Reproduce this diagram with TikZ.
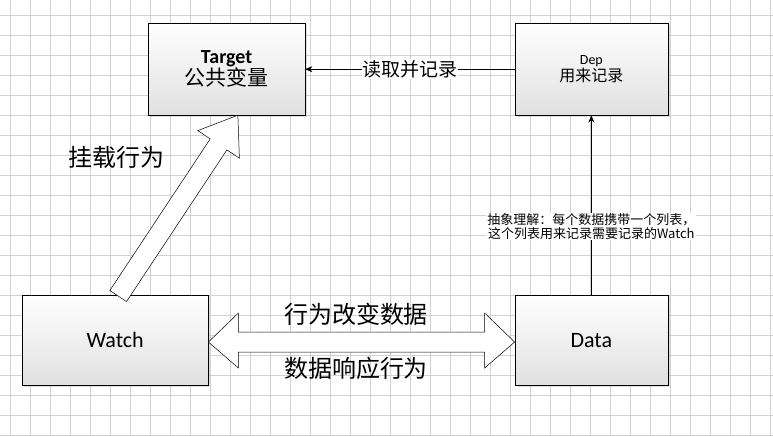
\documentclass[tikz,border=0pt]{standalone}
\usepackage{fontspec}
\setmainfont{Carlito}
\newfontfamily\zh{Noto Sans CJK SC}
\usetikzlibrary{arrows.meta,shadows,calc}
\begin{document}
\begin{tikzpicture}[x=1pt, y=-1pt,
    box/.style = {draw, line width=0.6pt, top color=white, bottom color=black!12,
                  drop shadow={shadow xshift=2pt, shadow yshift=-2pt, opacity=0.25},
                  align=center, inner sep=0pt},
    tag/.style = {fill=white, inner sep=1pt, align=center},
    link/.style = {-{Stealth[length=7pt,width=6pt]}, line width=0.5pt}]
    % grid
    \fill[white] (0,0) rectangle (773,435);
    \foreach \gx in {10,30,...,770} \draw[black!18, line width=0.5pt] (\gx,0) -- (\gx,435);
    \foreach \gy in {15,35,...,435} \draw[black!18, line width=0.5pt] (0,\gy) -- (773,\gy);
    \useasboundingbox (0,0) rectangle (773,435);

    \node [box, minimum width=157pt, minimum height=92pt] (target) at (226.5, 69)
        {\bfseries\fontsize{20}{24}\selectfont Target\\{\zh\fontsize{21}{24}\selectfont 公共变量}};
    \node [box, minimum width=153pt, minimum height=92pt] (dep) at (591.5, 69)
        {\fontsize{14}{18}\selectfont Dep\\{\zh\fontsize{16}{19}\selectfont 用来记录}};
    \node [box, minimum width=186pt, minimum height=90pt] (watch) at (115, 340)
        {\fontsize{22}{26}\selectfont Watch};
    \node [box, minimum width=153pt, minimum height=90pt] (data) at (591.5, 340)
        {\fontsize{22}{26}\selectfont Data};

    % connectors
    \draw [link] (dep.west) -- node [tag] (read) {\zh\fontsize{19}{22}\selectfont 读取并记录} (target.east);
    \draw [link] (data.north) -- node [tag, pos=0.38] (note)
        {\zh\fontsize{13}{19}\selectfont 抽象理解：每个数据携带一个列表，\\\zh\fontsize{13}{19}\selectfont 这个列表用来记录需要记录的Watch} (dep.south);

    % block arrows
    \coordinate (wl) at (watch.east |- 0,342);
    \coordinate (dr) at (data.west |- 0,342);
    \draw [fill=white, line width=0.5pt]
        (wl) -- ++(30,-29) -- ++(0,19) -- ($(dr)+(-30,-10)$) -- ++(0,-19) -- (dr)
        -- ++(-30,26) -- ++(0,-16) -- ($(wl)+(30,10)$) -- ++(0,16) -- cycle;
    \coordinate (base) at (118,296);
    \draw [fill=white, line width=0.5pt, rotate around={56.5:(base)}]
        ($(base)+(0,-10)$) -- ++(182,0) -- ++(0,-15) -- ++(35,25) -- ++(-35,25) -- ++(0,-15) -- ++(-182,0) -- cycle;

    \node (mount) at (116, 157) {\zh\fontsize{24}{26}\selectfont 挂载行为};
    \node (change) at (356, 314) {\zh\fontsize{24}{26}\selectfont 行为改变数据};
    \node (respond) at (356, 368) {\zh\fontsize{24}{26}\selectfont 数据响应行为};
\end{tikzpicture}
\end{document}
